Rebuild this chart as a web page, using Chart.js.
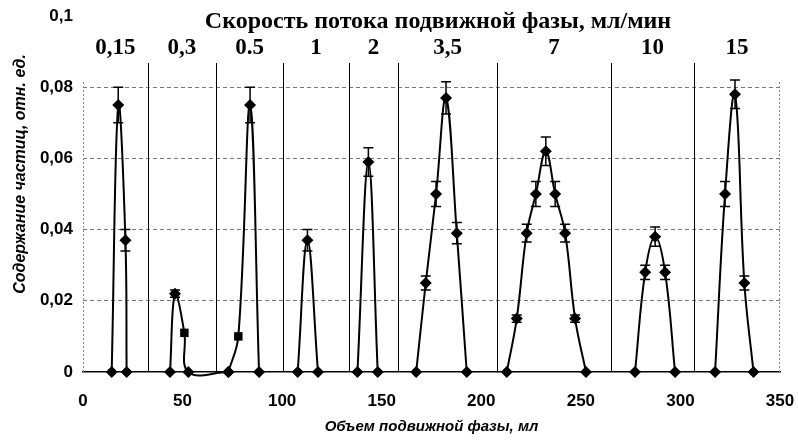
<!DOCTYPE html>
<html>
<head>
<meta charset="utf-8">
<script src="https://cdn.jsdelivr.net/npm/chart.js@4"></script>
<style>
  html, body { margin: 0; padding: 0; background: #fff; }
  #wrap { width: 798px; height: 442px; }
</style>
</head>
<body>
<div id="wrap"><canvas id="peaksChart" width="798" height="442"></canvas></div>
<script>
// Flow rates of the mobile phase, ml/min (one peak per rate)
const flowRates = ['0,15', '0,3', '0.5', '1', '2', '3,5', '7', '10', '15'];
// Borders of the flow-rate sections along the volume axis, ml
const sectionEdges = [0, 32.6, 66.8, 100.5, 133.6, 158.2, 207.9, 265.1, 306.9, 350];

// Volume of mobile phase for each point, ml
const volumes = [
    [14.4, 17.7, 21.3, 21.9],
    [43.7, 46.2, 50.9, 52.9, 73.0],
    [73.0, 78.0, 83.9, 88.4],
    [107.8, 112.7, 118.0],
    [137.8, 143.3, 148.0],
    [167.3, 172.1, 177.3, 182.3, 187.7, 192.7],
    [212.8, 217.8, 222.8, 227.4, 232.4, 237.1, 242.1, 247.1, 252.6],
    [277.2, 282.3, 287.3, 292.3, 297.3],
    [317.4, 322.4, 327.4, 332.1, 336.7],
];
// Particle content, rel. units
const contents = [
    [0, 0.075, 0.037, 0],
    [0, 0.022, 0.011, 0, 0],
    [0, 0.010, 0.075, 0],
    [0, 0.037, 0],
    [0, 0.059, 0],
    [0, 0.025, 0.050, 0.077, 0.039, 0],
    [0, 0.015, 0.039, 0.050, 0.062, 0.050, 0.039, 0.015, 0],
    [0, 0.028, 0.038, 0.028, 0],
    [0, 0.050, 0.078, 0.025, 0],
];
// Error bar half-lengths
const errors = [
    [0, 0.005, 0.003, 0],
    [0, 0.001, 0, 0, 0],
    [0, 0, 0.005, 0],
    [0, 0.003, 0],
    [0, 0.004, 0],
    [0, 0.002, 0.0035, 0.0045, 0.003, 0],
    [0, 0.001, 0.0025, 0.0035, 0.004, 0.0035, 0.0025, 0.001, 0],
    [0, 0.002, 0.0027, 0.002, 0],
    [0, 0.0035, 0.004, 0.002, 0],
];

const sansFam = '"Liberation Sans", Arial, sans-serif';
const serifFam = '"Liberation Serif", "Times New Roman", serif';

// error bars, section lines and the top labels
const extras = {
    id: 'extras',
    beforeDatasetsDraw(chart) {
        const { ctx, chartArea, scales: { x } } = chart;
        ctx.save();
        // dotted frame left and right
        ctx.strokeStyle = '#888';
        ctx.lineWidth = 1;
        ctx.setLineDash([2, 2]);
        [chartArea.left + 0.5, chartArea.right - 0.5].forEach(px => {
            ctx.beginPath();
            ctx.moveTo(px, 82);
            ctx.lineTo(px, chartArea.bottom);
            ctx.stroke();
        });
        ctx.setLineDash([]);
        // section separators
        ctx.strokeStyle = '#000';
        sectionEdges.slice(1, -1).forEach(v => {
            const px = Math.round(x.getPixelForValue(v)) + 0.5;
            ctx.beginPath();
            ctx.moveTo(px, 63);
            ctx.lineTo(px, chartArea.bottom);
            ctx.stroke();
        });
        ctx.restore();
    },
    afterDatasetsDraw(chart) {
        const { ctx, scales: { x, y } } = chart;
        ctx.save();
        ctx.strokeStyle = '#000';
        ctx.lineWidth = 1.5;
        volumes.forEach((xs, i) => {
            xs.forEach((v, j) => {
                const e = errors[i][j];
                if (!e) return;
                const px = x.getPixelForValue(v);
                const top = y.getPixelForValue(contents[i][j] + e);
                const bot = y.getPixelForValue(contents[i][j] - e);
                ctx.beginPath();
                ctx.moveTo(px, top); ctx.lineTo(px, bot);
                ctx.moveTo(px - 5, top); ctx.lineTo(px + 5, top);
                ctx.moveTo(px - 5, bot); ctx.lineTo(px + 5, bot);
                ctx.stroke();
            });
        });
        // titles on top
        ctx.fillStyle = '#000';
        ctx.textAlign = 'center';
        ctx.textBaseline = 'middle';
        ctx.font = 'bold 24px ' + serifFam;
        ctx.fillText('Скорость потока подвижной фазы, мл/мин', 438, 22);
        ctx.font = 'bold 23px ' + serifFam;
        flowRates.forEach((r, i) => {
            const mid = (x.getPixelForValue(sectionEdges[i]) + x.getPixelForValue(sectionEdges[i + 1])) / 2;
            ctx.fillText(r, mid, 48);
        });
        // y axis title
        ctx.translate(21, 174);
        ctx.rotate(-Math.PI / 2);
        ctx.font = 'italic bold 16px ' + sansFam;
        ctx.fillText('Содержание частиц, отн. ед.', 0, 0);
        ctx.restore();
    }
};

const datasets = volumes.map((xs, i) => ({
    data: xs.map((v, j) => ({ x: v, y: contents[i][j] })),
    borderColor: '#000',
    backgroundColor: '#000',
    borderWidth: 2,
    tension: 0.4,
    capBezierPoints: false,
    pointStyle: c => (c.raw && c.raw.y > 0 && !errors[i][c.dataIndex]) ? 'rect' : 'rectRot',
    pointRadius: 6,
    pointBorderWidth: 0,
    clip: false,
}));

const ctx = document.getElementById('peaksChart').getContext('2d');
new Chart(ctx, {
    type: 'scatter',
    data: { datasets },
    plugins: [extras],
    options: {
        responsive: false,
        animation: false,
        showLine: true,
        layout: { padding: 0 },
        plugins: { legend: { display: false }, tooltip: { enabled: false } },
        scales: {
            x: {
                type: 'linear',
                min: 0, max: 350,
                ticks: { stepSize: 50, padding: 19, color: '#000', font: { family: sansFam, size: 17, weight: 'bold' } },
                grid: { display: false, drawTicks: false },
                border: { display: true, color: '#000', width: 1.5 },
                title: {
                    display: true, text: 'Объем подвижной фазы, мл', color: '#000',
                    font: { family: sansFam, size: 15, weight: 'bold', style: 'italic' },
                    padding: { top: 0, bottom: 6 }
                },
                afterFit: s => { s.height = 70; s.paddingLeft = 0; s.paddingRight = 18; }
            },
            y: {
                min: 0, max: 0.1,
                ticks: {
                    stepSize: 0.02, padding: 10, color: '#000',
                    font: { family: sansFam, size: 17, weight: 'bold' },
                    callback: v => String(+v.toFixed(2)).replace('.', ',')
                },
                grid: {
                    drawTicks: false,
                    color: c => (c.tick && (c.tick.value > 0.09 || c.tick.value === 0)) ? 'rgba(0,0,0,0)' : '#777',
                    lineWidth: 1
                },
                border: { display: false, dash: [4, 3] },
                afterFit: s => { s.width = 83; s.paddingTop = 16; s.paddingBottom = 0; }
            }
        }
    }
});
</script>
</body>
</html>
